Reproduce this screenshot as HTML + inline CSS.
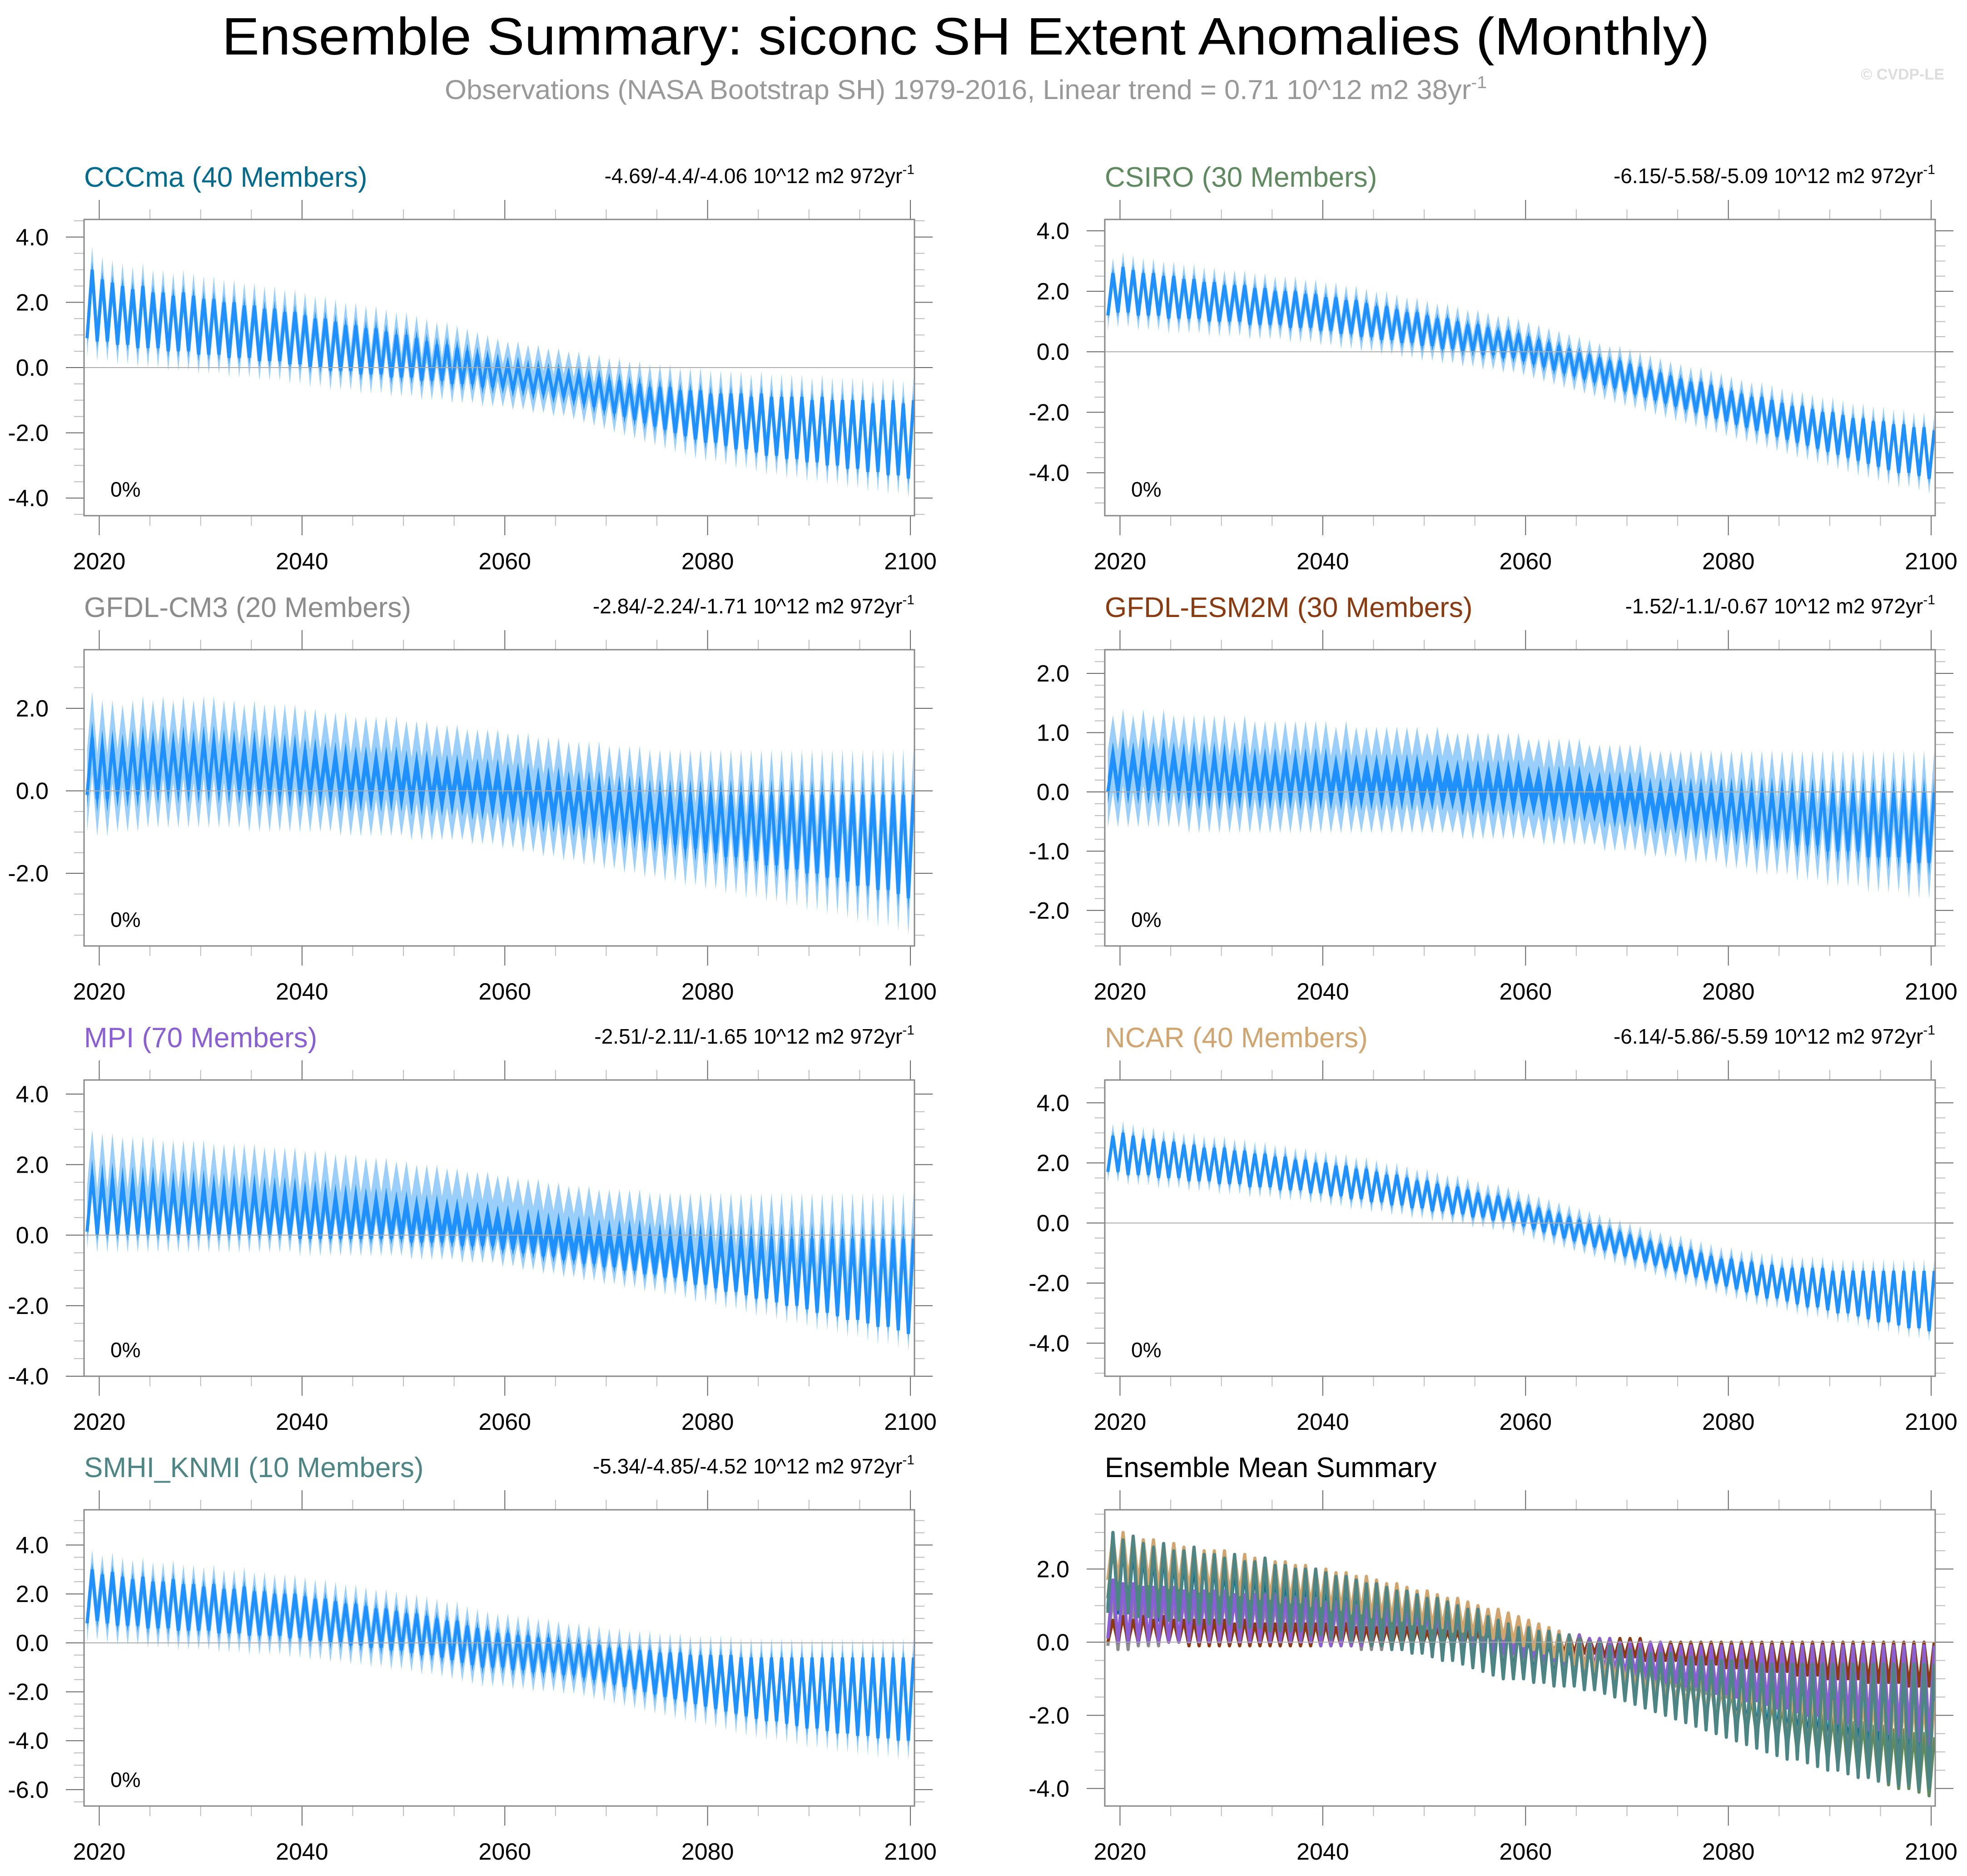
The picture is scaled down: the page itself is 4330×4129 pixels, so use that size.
<!DOCTYPE html>
<html><head><meta charset="utf-8">
<style>
html,body{margin:0;padding:0;background:#fff;}
svg{display:block;font-family:"Liberation Sans",Arial,sans-serif;}
</style></head>
<body>
<svg id="fig" xmlns="http://www.w3.org/2000/svg" width="4330" height="4129" viewBox="0 0 4330 4129">
<rect x="0" y="0" width="4330" height="4129" fill="#fff"/>
<text x="2126" y="120" font-size="116" text-anchor="middle" textLength="3275" lengthAdjust="spacingAndGlyphs" fill="#000">Ensemble Summary: siconc SH Extent Anomalies (Monthly)</text>
<text x="2126" y="218" font-size="60" text-anchor="middle" textLength="2294" lengthAdjust="spacingAndGlyphs" fill="#999">Observations (NASA Bootstrap SH) 1979-2016, Linear trend = 0.71 10^12 m2 38yr<tspan font-size="38" dy="-24">-1</tspan></text>
<text x="4280" y="175" font-size="34" font-weight="bold" text-anchor="end" fill="#ddd">© CVDP-LE</text>
<g id="plots"></g>
</svg>
<script>
const startYear = 2019;
const cccmaHi = [3.0,2.7,2.6,2.5,2.4,2.5,2.3,2.3,2.2,2.3, 2.2,2.1,2.1,2.0,2.0,1.9,1.9,1.8,1.8,1.7, 1.7,1.6,1.5,1.5,1.4,1.3,1.3,1.2,1.2,1.1, 1.0,1.0,0.9,0.8,0.7,0.7,0.6,0.5,0.4,0.3, 0.2,0.1,0.1,0.0,0.0,-0.1,-0.1,-0.2,-0.2,-0.3, -0.3,-0.4,-0.4,-0.5,-0.5,-0.6,-0.6,-0.6,-0.7,-0.7, -0.7,-0.8,-0.8,-0.8,-0.8,-0.9,-0.8,-0.9,-0.9,-0.9, -0.9,-1.0,-0.9,-1.0,-1.0,-1.0,-1.0,-1.1,-1.0,-1.0, -1.1,-1.0];
const cccmaLo = [0.9,0.8,0.8,0.7,0.7,0.6,0.6,0.6,0.5,0.5, 0.5,0.4,0.4,0.4,0.3,0.3,0.3,0.2,0.2,0.2, 0.1,0.1,0.0,0.0,-0.1,-0.1,-0.1,-0.2,-0.2,-0.2, -0.3,-0.3,-0.3,-0.4,-0.4,-0.4,-0.5,-0.5,-0.5,-0.6, -0.6,-0.6,-0.7,-0.7,-0.8,-0.8,-0.9,-0.9,-1.0,-1.1, -1.2,-1.3,-1.4,-1.5,-1.6,-1.7,-1.8,-1.9,-2.0,-2.1, -2.2,-2.3,-2.3,-2.4,-2.5,-2.5,-2.6,-2.7,-2.7,-2.8, -2.8,-2.9,-2.9,-3.0,-3.0,-3.1,-3.1,-3.2,-3.2,-3.3, -3.3,-3.4];
const csiroHi = [2.6,2.8,2.7,2.6,2.6,2.5,2.5,2.4,2.4,2.3, 2.3,2.2,2.2,2.2,2.1,2.1,2.0,2.0,2.0,1.9, 1.9,1.8,1.8,1.7,1.7,1.6,1.5,1.5,1.4,1.3, 1.3,1.2,1.1,1.1,1.0,0.9,0.9,0.8,0.7,0.7, 0.6,0.5,0.4,0.3,0.2,0.1,0.0,-0.1,-0.2,-0.3, -0.3,-0.4,-0.5,-0.6,-0.7,-0.8,-0.9,-1.0,-1.0,-1.1, -1.2,-1.3,-1.4,-1.5,-1.5,-1.6,-1.7,-1.8,-1.8,-1.9, -2.0,-2.0,-2.1,-2.2,-2.2,-2.3,-2.3,-2.4,-2.4,-2.5, -2.5,-2.6];
const csiroLo = [1.2,1.3,1.3,1.2,1.2,1.2,1.1,1.1,1.1,1.1, 1.0,1.0,1.0,1.0,0.9,0.9,0.9,0.9,0.8,0.8, 0.8,0.7,0.7,0.6,0.6,0.5,0.5,0.4,0.4,0.3, 0.3,0.2,0.2,0.1,0.1,0.0,0.0,-0.1,-0.1,-0.2, -0.2,-0.3,-0.4,-0.5,-0.6,-0.7,-0.8,-0.9,-1.0,-1.1, -1.2,-1.3,-1.4,-1.5,-1.6,-1.7,-1.8,-1.9,-2.0,-2.1, -2.2,-2.3,-2.4,-2.5,-2.6,-2.7,-2.8,-2.9,-3.0,-3.1, -3.2,-3.3,-3.4,-3.5,-3.6,-3.7,-3.8,-3.9,-4.0,-4.0, -4.1,-4.2];
const cm3Hi = [1.3,1.1,1.1,1.0,1.1,1.2,1.1,1.2,1.1,1.2, 1.1,1.2,1.2,1.1,1.1,1.0,1.1,1.0,1.0,1.0, 1.0,0.9,0.9,0.8,0.8,0.8,0.7,0.7,0.7,0.7, 0.7,0.6,0.6,0.6,0.5,0.5,0.5,0.4,0.4,0.4, 0.4,0.3,0.3,0.3,0.2,0.2,0.2,0.1,0.1,0.1, 0.1,0.0,0.0,0.0,0.0,-0.1,-0.1,-0.1,-0.1,-0.1, -0.1,-0.1,-0.1,-0.1,-0.1,-0.1,-0.1,-0.1,-0.1,-0.1, -0.1,-0.1,-0.1,-0.1,-0.1,-0.1,-0.1,-0.1,-0.1,-0.1, -0.1,-0.1];
const cm3Lo = [-0.1,-0.2,-0.2,-0.1,-0.1,-0.1,0.0,0.0,0.0,0.0, 0.0,0.0,0.0,0.0,0.0,0.0,-0.1,-0.1,-0.1,-0.1, -0.1,-0.1,-0.1,-0.1,-0.1,-0.2,-0.2,-0.2,-0.2,-0.2, -0.2,-0.2,-0.3,-0.3,-0.3,-0.3,-0.3,-0.3,-0.4,-0.4, -0.4,-0.5,-0.5,-0.6,-0.6,-0.7,-0.7,-0.8,-0.8,-0.9, -0.9,-1.0,-1.0,-1.1,-1.1,-1.2,-1.2,-1.3,-1.3,-1.4, -1.4,-1.5,-1.5,-1.6,-1.6,-1.7,-1.7,-1.8,-1.8,-1.9, -1.9,-2.0,-2.0,-2.1,-2.1,-2.2,-2.3,-2.3,-2.4,-2.4, -2.5,-2.6];
const esmHi = [0.6,0.7,0.6,0.7,0.6,0.7,0.6,0.6,0.6,0.6, 0.6,0.6,0.5,0.6,0.5,0.5,0.5,0.5,0.5,0.5, 0.5,0.5,0.4,0.5,0.4,0.4,0.4,0.4,0.4,0.4, 0.4,0.3,0.4,0.3,0.3,0.3,0.3,0.3,0.3,0.3, 0.3,0.2,0.2,0.2,0.2,0.2,0.2,0.1,0.1,0.1, 0.1,0.1,0.1,0.0,0.0,0.0,0.0,0.0,0.0,0.0, 0.0,0.0,0.0,0.0,0.0,0.0,0.0,0.0,0.0,0.0, 0.0,0.0,0.0,0.0,0.0,0.0,0.0,0.0,0.0,0.0, 0.0,0.0];
const esmLo = [0.0,0.0,0.0,0.0,0.0,0.0,0.0,0.0,-0.1,-0.1, -0.1,-0.1,-0.1,-0.1,-0.1,-0.1,-0.1,-0.1,-0.1,-0.1, -0.1,-0.1,-0.1,-0.1,-0.1,-0.1,-0.1,-0.1,-0.1,-0.1, -0.1,-0.1,-0.1,-0.1,-0.1,-0.2,-0.2,-0.2,-0.2,-0.2, -0.2,-0.2,-0.2,-0.3,-0.3,-0.3,-0.3,-0.3,-0.3,-0.4, -0.4,-0.4,-0.4,-0.5,-0.5,-0.5,-0.5,-0.6,-0.6,-0.6, -0.6,-0.7,-0.7,-0.7,-0.8,-0.8,-0.8,-0.8,-0.9,-0.9, -0.9,-1.0,-1.0,-1.0,-1.0,-1.1,-1.1,-1.1,-1.1,-1.2, -1.2,-1.2];
const mpiHi = [1.7,1.6,1.6,1.5,1.5,1.5,1.5,1.4,1.4,1.4, 1.4,1.4,1.3,1.3,1.3,1.3,1.3,1.2,1.2,1.2, 1.2,1.1,1.1,1.1,1.0,1.0,1.0,0.9,0.9,0.9, 0.8,0.8,0.7,0.7,0.7,0.6,0.6,0.5,0.5,0.5, 0.4,0.4,0.3,0.3,0.3,0.2,0.2,0.1,0.1,0.1, 0.0,0.0,0.0,0.0,0.0,-0.1,-0.1,-0.1,-0.1,-0.1, -0.1,-0.1,-0.1,-0.1,-0.1,-0.1,-0.1,-0.1,-0.1,-0.1, -0.1,-0.1,-0.1,-0.1,-0.1,-0.1,-0.1,-0.1,-0.1,-0.1, -0.1,-0.1];
const mpiLo = [0.1,0.0,0.0,0.0,0.0,0.0,0.0,0.0,0.0,0.0, 0.0,0.0,0.0,0.0,0.0,0.0,0.0,0.0,0.0,0.0, 0.0,-0.1,-0.1,-0.1,-0.1,-0.1,-0.1,-0.1,-0.1,-0.1, -0.1,-0.1,-0.2,-0.2,-0.2,-0.2,-0.2,-0.3,-0.3,-0.3, -0.3,-0.4,-0.4,-0.5,-0.5,-0.6,-0.6,-0.7,-0.7,-0.8, -0.8,-0.9,-0.9,-1.0,-1.0,-1.1,-1.1,-1.2,-1.2,-1.3, -1.4,-1.4,-1.5,-1.6,-1.6,-1.7,-1.8,-1.8,-1.9,-2.0, -2.0,-2.1,-2.2,-2.2,-2.3,-2.4,-2.4,-2.5,-2.6,-2.6, -2.7,-2.8];
const ncarHi = [2.9,3.0,2.9,2.8,2.8,2.7,2.7,2.6,2.6,2.5, 2.5,2.5,2.4,2.4,2.3,2.3,2.2,2.2,2.1,2.1, 2.0,2.0,1.9,1.9,1.8,1.8,1.7,1.6,1.6,1.5, 1.4,1.4,1.3,1.2,1.2,1.1,1.0,0.9,0.9,0.8, 0.7,0.6,0.5,0.4,0.3,0.2,0.1,0.0,-0.1,-0.2, -0.3,-0.4,-0.5,-0.6,-0.7,-0.8,-0.8,-0.9,-1.0,-1.1, -1.2,-1.2,-1.3,-1.3,-1.4,-1.4,-1.5,-1.5,-1.5,-1.5, -1.5,-1.6,-1.6,-1.6,-1.6,-1.6,-1.6,-1.6,-1.6,-1.6, -1.6,-1.6];
const ncarLo = [1.7,1.7,1.6,1.6,1.6,1.5,1.5,1.5,1.4,1.4, 1.4,1.3,1.3,1.3,1.2,1.2,1.2,1.1,1.1,1.1, 1.0,1.0,0.9,0.9,0.8,0.8,0.7,0.7,0.6,0.6, 0.5,0.5,0.4,0.4,0.3,0.3,0.2,0.2,0.1,0.1, 0.0,-0.1,-0.2,-0.3,-0.4,-0.5,-0.6,-0.7,-0.8,-0.9, -1.0,-1.1,-1.2,-1.3,-1.4,-1.5,-1.6,-1.7,-1.8,-1.9, -2.0,-2.1,-2.2,-2.3,-2.4,-2.5,-2.5,-2.6,-2.7,-2.8, -2.8,-2.9,-3.0,-3.0,-3.1,-3.2,-3.3,-3.3,-3.4,-3.5, -3.5,-3.6];
const smhiHi = [3.0,2.8,2.9,2.7,2.6,2.7,2.5,2.5,2.6,2.4, 2.4,2.3,2.4,2.2,2.2,2.3,2.1,2.1,2.0,2.0, 2.0,1.9,1.8,1.8,1.7,1.6,1.6,1.5,1.4,1.4, 1.3,1.2,1.2,1.1,1.0,0.9,0.9,0.7,0.6,0.5, 0.4,0.4,0.3,0.3,0.2,0.2,0.1,0.0,0.0,-0.1, -0.1,-0.2,-0.2,-0.3,-0.3,-0.3,-0.4,-0.4,-0.4,-0.5, -0.5,-0.5,-0.5,-0.5,-0.6,-0.6,-0.6,-0.6,-0.6,-0.6, -0.6,-0.6,-0.6,-0.6,-0.6,-0.6,-0.6,-0.6,-0.6,-0.6, -0.6,-0.6];
const smhiLo = [0.8,0.9,0.8,0.7,0.7,0.7,0.6,0.6,0.6,0.5, 0.5,0.5,0.5,0.4,0.4,0.4,0.3,0.3,0.3,0.3, 0.2,0.2,0.1,0.1,0.0,0.0,-0.1,-0.1,-0.2,-0.2, -0.3,-0.3,-0.4,-0.5,-0.5,-0.6,-0.7,-0.8,-0.9,-1.0, -1.0,-1.0,-1.1,-1.1,-1.2,-1.2,-1.2,-1.3,-1.3,-1.4, -1.5,-1.6,-1.7,-1.8,-1.9,-2.0,-2.1,-2.2,-2.3,-2.4, -2.5,-2.6,-2.7,-2.8,-2.9,-3.0,-3.1,-3.2,-3.2,-3.3, -3.4,-3.5,-3.5,-3.6,-3.7,-3.7,-3.8,-3.8,-3.9,-3.9, -4.0,-4.0];
const spreadUp = [0.7, 0.5, 1.1, 0.7, 1.3, 0.4, 0.8];
const spreadDn = [0.6, 0.5, 0.9, 0.6, 0.5, 0.35, 0.8];
const xTickLabels = [2020, 2040, 2060, 2080, 2100];
const statLabels = ["-4.69/-4.4/-4.06","-6.15/-5.58/-5.09","-2.84/-2.24/-1.71","-1.52/-1.1/-0.67","-2.51/-2.11/-1.65","-6.14/-5.86/-5.59","-5.34/-4.85/-4.52"];

const NS = "http://www.w3.org/2000/svg";
const root = document.getElementById('plots');
function mk(tag, attrs, parent) {
  const e = document.createElementNS(NS, tag);
  for (const k in attrs) e.setAttribute(k, attrs[k]);
  (parent || root).appendChild(e);
  return e;
}
const W = 1828, H = 652, X0 = 2018.5, X1 = 2100.4;
const colX = [185, 2432], rowY = [483, 1430, 2377, 3323];
const models = [
  {title:"CCCma (40 Members)", color:"#006b8f", hi:cccmaHi, lo:cccmaLo, yr:[-4.54,4.54], step:2, minor:0.5},
  {title:"CSIRO (30 Members)", color:"#5f8a5f", hi:csiroHi, lo:csiroLo, yr:[-5.42,4.375], step:2, minor:0.5},
  {title:"GFDL-CM3 (20 Members)", color:"#8c8c8c", hi:cm3Hi, lo:cm3Lo, yr:[-3.76,3.42], step:2, minor:0.5},
  {title:"GFDL-ESM2M (30 Members)", color:"#8b3a0f", hi:esmHi, lo:esmLo, yr:[-2.6,2.4], step:1, minor:0.2},
  {title:"MPI (70 Members)", color:"#8a5fd6", hi:mpiHi, lo:mpiLo, yr:[-4.0,4.4], step:2, minor:0.5},
  {title:"NCAR (40 Members)", color:"#d2a56e", hi:ncarHi, lo:ncarLo, yr:[-5.1,4.76], step:2, minor:0.5},
  {title:"SMHI_KNMI (10 Members)", color:"#4d8585", hi:smhiHi, lo:smhiLo, yr:[-6.67,5.44], step:2, minor:0.5}
];

function frame(px, py, yr, step, minor, name) {
  const g = mk('g', {});
  
  
  const xs = y => px + (y - X0) / (X1 - X0) * W;
  const ys = v => py + (yr[1] - v) / (yr[1] - yr[0]) * H;
  for (let y = 2020; y <= 2100; y += 5) {
    const major = (y % 20 === 0);
    const L = major ? 43 : 22;
    const x = xs(y);
    const t1 = mk('line', {x1:x, y1:py, x2:x, y2:py - L, stroke: major ? '#666' : '#bbb', 'stroke-width':2}, g);
    
    
    const t2 = mk('line', {x1:x, y1:py + H, x2:x, y2:py + H + L, stroke: major ? '#666' : '#bbb', 'stroke-width':2}, g);
    
    
  }
  xTickLabels.forEach(v => {
    const t = mk('text', {x:xs(v), y:py + H + 118, 'font-size':52, 'text-anchor':'middle', fill:'#000'}, g);
    t.textContent = v;
    
    
  });
  const n0 = Math.ceil(yr[0] / minor - 1e-6), n1 = Math.floor(yr[1] / minor + 1e-6);
  for (let n = n0; n <= n1; n++) {
    const v = n * minor;
    const major = Math.abs(v / step - Math.round(v / step)) < 1e-6;
    const L = major ? 40 : 22;
    const y = ys(v);
    const a = mk('line', {x1:px, y1:y, x2:px - L, y2:y, stroke: major ? '#666' : '#bbb', 'stroke-width':2}, g);
    
    
    const b = mk('line', {x1:px + W, y1:y, x2:px + W + L, y2:y, stroke: major ? '#666' : '#bbb', 'stroke-width':2}, g);
    
    
    if (major) {
      const t = mk('text', {x:px - 78, y:y + 18, 'font-size':52, 'text-anchor':'end', fill:'#000'}, g);
      t.textContent = v.toFixed(1);
      
      
    }
  }
  return {g, xs, ys};
}
function zig(hi, lo, xs, ys, offHi, offLo) {
  const pts = [];
  for (let i = 0; i < hi.length; i++) {
    const yr = startYear + i;
    pts.push([xs(yr - 0.2), ys(lo[i] + offLo)]);
    pts.push([xs(yr + 0.3), ys(hi[i] + offHi)]);
  }
  return pts;
}
const fmt = pts => pts.map(q => q[0].toFixed(1) + ',' + q[1].toFixed(1)).join(' ');
function finishFrame(f, px, py) {
  const z = mk('line', {x1:px, y1:f.ys(0), x2:px + W, y2:f.ys(0), stroke:'#aaa', 'stroke-width':2}, f.g);
  
  
  const box = mk('rect', {x:px, y:py, width:W, height:H, fill:'none', stroke:'#888', 'stroke-width':3}, f.g);
  
  
}

models.forEach((m, k) => {
  const px = colX[k % 2], py = rowY[Math.floor(k / 2)];
  const f = frame(px, py, m.yr, m.step, m.minor, 'panel-' + m.title.split(' ')[0].toLowerCase());
  const su = spreadUp[k], sd = spreadDn[k];
  const bands = [[su, sd, '#99cffa', 'spread-band'], [su * 0.35, sd * 0.35, '#1e90ff', 'inner-band']];
  bands.forEach(([u, d, col, nm]) => {
    const up = zig(m.hi, m.lo, f.xs, f.ys, u, u);
    const dn = zig(m.hi, m.lo, f.xs, f.ys, -d, -d).reverse();
    const p = mk('polygon', {points: fmt(up.concat(dn)), fill: col}, f.g);
    
    
  });
  const line = mk('polyline', {points: fmt(zig(m.hi, m.lo, f.xs, f.ys, 0, 0)), fill:'none', stroke:'#1e90ff', 'stroke-width':7}, f.g);
  
  
  finishFrame(f, px, py);
  const t = mk('text', {x:px, y:py - 72, 'font-size':62, fill:m.color}, f.g);
  t.textContent = m.title;
  
  
  const s = mk('text', {x:px + W, y:py - 80, 'font-size':46, 'text-anchor':'end', fill:'#000'}, f.g);
  s.innerHTML = statLabels[k] + ' 10^12 m2 972yr<tspan font-size="30" dy="-20">-1</tspan>';
  
  
  const pc = mk('text', {x:px + 58, y:py + H - 42, 'font-size':46, fill:'#000'}, f.g);
  pc.textContent = '0%';
  
  
});

(function(){
  const px = colX[1], py = rowY[3];
  const f = frame(px, py, [-4.48, 3.62], 2, 0.5, 'panel-ensemble-mean-summary');
  models.forEach(m => {
    const l = mk('polyline', {points: fmt(zig(m.hi, m.lo, f.xs, f.ys, 0, 0)), fill:'none', stroke:m.color, 'stroke-width':7, 'stroke-linejoin':'round'}, f.g);
    
    
  });
  finishFrame(f, px, py);
  const t = mk('text', {x:px, y:py - 72, 'font-size':62, fill:'#000'}, f.g);
  t.textContent = 'Ensemble Mean Summary';
  
  
})();
</script>
</body></html>
